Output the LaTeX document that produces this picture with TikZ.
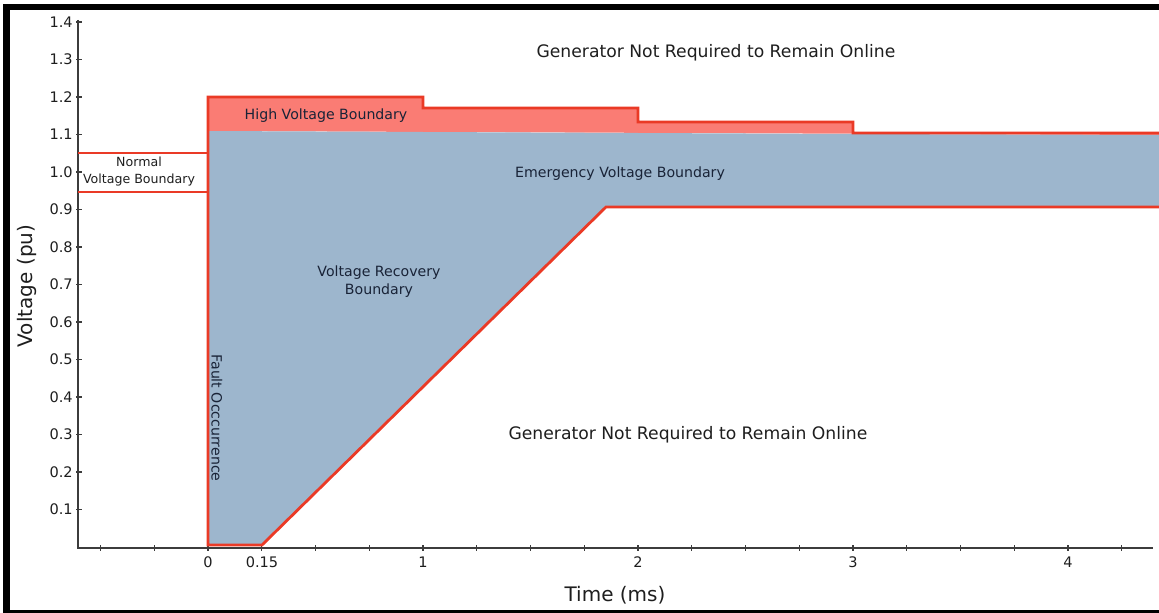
\documentclass[tikz,border=0pt]{standalone}
\usepackage{fontspec}
\setmainfont{DejaVu Sans}
\definecolor{bred}{RGB}{234,58,38}
\definecolor{pinkfill}{RGB}{250,124,116}
\definecolor{bluefill}{RGB}{157,182,205}
\definecolor{axisgray}{RGB}{60,60,60}
\definecolor{txt}{RGB}{30,30,30}
\definecolor{txtdark}{RGB}{25,35,55}
\begin{document}
\begin{tikzpicture}[x=0.75pt,y=-0.75pt,
  redline/.style={draw=bred,line width=2.1pt,line join=miter},
  axisline/.style={draw=axisgray,line width=1.2pt},
  tickline/.style={draw=axisgray,line width=0.9pt},
  ticklabel/.style={text=txt,inner sep=0pt,font=\fontsize{10.9pt}{13pt}\selectfont},
  biglabel/.style={text=txt,inner sep=0pt,font=\fontsize{15pt}{18pt}\selectfont},
  region/.style={text=txt,inner sep=0pt,font=\fontsize{12.9pt}{15pt}\selectfont},
  zonelabel/.style={text=txtdark,inner sep=0pt,align=center,font=\fontsize{10.6pt}{13.5pt}\selectfont},
  normlabel/.style={text=txt,inner sep=0pt,align=center,font=\fontsize{9.45pt}{12.75pt}\selectfont}]
\useasboundingbox (0,0) rectangle (1159,613);
% frame
\fill[black] (3,4) rectangle (1159,10);
\fill[black] (3,4) rectangle (10,613);
\fill[black] (3,610) rectangle (1159,613);
% regions
\fill[pinkfill] (208,97) -- (423,97) -- (423,108) -- (638,108) -- (638,122) -- (853,122) -- (853,133) -- (1159,133) -- (1159,135) -- (208,131) -- cycle;
\fill[bluefill] (208,131) -- (853,134) -- (1159,135) -- (1159,207) -- (606,207) -- (262,545) -- (208,545) -- cycle;
% axes
\draw[axisline] (78,20) -- (78,548) -- (1153,548);
\foreach \i/\lab in {1/0.1,2/0.2,3/0.3,4/0.4,5/0.5,6/0.6,7/0.7,8/0.8,9/0.9,10/1.0,11/1.1,12/1.2,13/1.3,14/1.4}{
  \draw[tickline] (76,{547-37.5*\i}) -- (82,{547-37.5*\i});
  \node[ticklabel,anchor=east] (yl\i) at (73,{547-37.5*\i}) {\lab};
}
\foreach \i in {0,...,19}{
  \draw[tickline] ({100.5+53.75*\i},545) -- ({100.5+53.75*\i},551);
}
\node[ticklabel] (x0) at (208,562) {0};
\node[ticklabel] (x015) at (262,562) {0.15};
\node[ticklabel] (x1) at (423,562) {1};
\node[ticklabel] (x2) at (638,562) {2};
\node[ticklabel] (x3) at (853,562) {3};
\node[ticklabel] (x4) at (1068,562) {4};
% boundaries
\draw[redline] (78,153) -- (208,153);
\draw[redline] (78,192) -- (208,192);
\draw[redline] (1159,133) -- (853,133) -- (853,122) -- (638,122) -- (638,108) -- (423,108) -- (423,97) -- (208,97) -- (208,545) -- (262,545) -- (606,207) -- (1159,207);
% labels
\node[region] (gentop) at (716,53) {Generator Not Required to Remain Online};
\node[region] (genbot) at (688,435) {Generator Not Required to Remain Online};
\node[zonelabel] (high) at (326,116) {High Voltage Boundary};
\node[zonelabel] (emerg) at (620,174) {Emergency Voltage Boundary};
\node[zonelabel] (recov) at (379,282) {Voltage Recovery\\Boundary};
\node[normlabel] (normal) at (139,172) {Normal\\Voltage Boundary};
\node[zonelabel,rotate=-90] (fault) at (217,418) {Fault Occcurrence};
\node[biglabel,rotate=90] (ylab) at (27,286) {Voltage (pu)};
\node[biglabel] (xlab) at (615,595) {Time (ms)};
\end{tikzpicture}
\end{document}
